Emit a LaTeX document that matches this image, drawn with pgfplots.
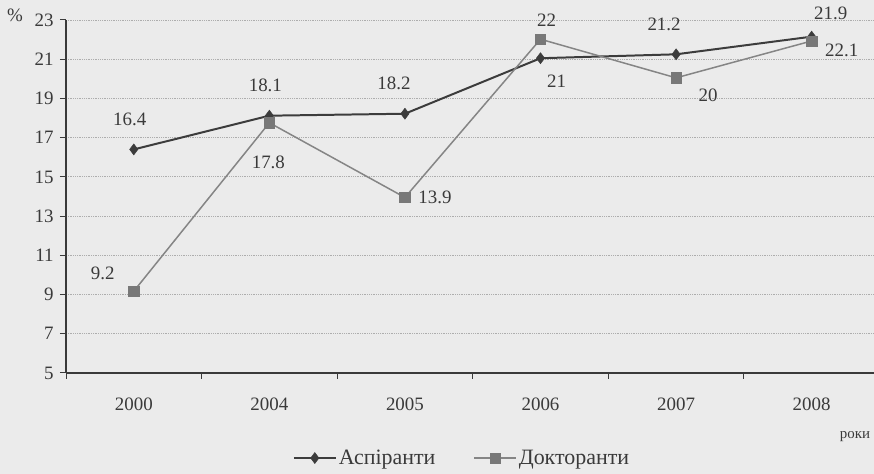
\documentclass[border=0pt]{standalone}
\usepackage{pgfplots}
\pgfplotsset{compat=1.18}
\usepackage{fontspec}
\setmainfont{Liberation Serif}
\definecolor{paper}{HTML}{EBEBEB}
\definecolor{ink}{HTML}{3A3A3A}
\definecolor{darkser}{HTML}{3C3C3C}
\definecolor{lightser}{HTML}{858585}
\definecolor{gridc}{HTML}{ADADAD}
\begin{document}
\begin{tikzpicture}[x=1bp,y=1bp]
\path[use as bounding box, fill=paper] (0,0) rectangle (874,474);
\begin{axis}[
  at={(66bp,101bp)}, anchor=south west,
  scale only axis, width=808bp, height=353bp,
  xmin=-0.5, xmax=5.46, ymin=5, ymax=23,
  axis x line=bottom, axis y line=left,
  axis line style={ink, line width=1.2pt, -},
  /pgf/number format/assume math mode=true,
  xtick={-0.5,0.5,...,4.5}, xticklabels={},
  extra x ticks={0,1,2,3,4,5},
  extra x tick labels={2000,2004,2005,2006,2007,2008},
  extra x tick style={major tick length=0pt, grid=none},
  ytick={5,7,...,23},
  tick align=outside, major tick length=6bp,
  tick style={ink, line width=1pt},
  ymajorgrids, grid style={gridc, line width=0.8pt, densely dotted},
  ticklabel style={font=\fontsize{19}{21}\selectfont, text=ink},
  yticklabel style={font=\fontsize{19}{21}\selectfont, text=ink, xshift=-3bp},
  xticklabel style={yshift=-21bp},
  clip=false,
  legend columns=2,
  legend style={at={(0.49,-0.241)}, anchor=center, draw=none, fill=none,
    font=\fontsize{22}{24}\selectfont, text=ink,
    /tikz/every even column/.append style={column sep=36bp}},
  legend image code/.code={\draw[#1, mark repeat=2, mark phase=2] plot coordinates {(0bp,0bp) (21bp,0bp) (42bp,0bp)};},
]
\addplot[darkser, line width=2pt, mark=diamond*, mark size=5.5bp, mark options={fill=darkser, draw=darkser, line width=0.5pt}]
  coordinates {(0,16.4) (1,18.12) (2,18.22) (3,21.05) (4,21.25) (5,22.15)};
\addlegendentry{Аспіранти}
\addplot[lightser, line width=1.5pt, mark=square*, mark size=5.2bp, mark options={fill=lightser!90!black, draw=lightser!90!black, line width=0.5pt}]
  coordinates {(0,9.17) (1,17.76) (2,13.95) (3,22.02) (4,20.05) (5,21.93)};
\addlegendentry{Докторанти}
\begin{scope}[every node/.style={font=\fontsize{19}{21}\selectfont, text=ink}]
\node at ([xshift=-4bp,yshift=30bp]axis cs:0,16.4) {16.4};
\node at ([xshift=-4bp,yshift=30bp]axis cs:1,18.12) {18.1};
\node at ([xshift=-11bp,yshift=30bp]axis cs:2,18.22) {18.2};
\node at ([xshift=16bp,yshift=-23bp]axis cs:3,21.05) {21};
\node at ([xshift=-12bp,yshift=30bp]axis cs:4,21.25) {21.2};
\node at ([xshift=19bp,yshift=23bp]axis cs:5,22.15) {21.9};
\node at ([xshift=-31bp,yshift=18bp]axis cs:0,9.17) {9.2};
\node at ([xshift=-1bp,yshift=-40bp]axis cs:1,17.76) {17.8};
\node at ([xshift=30bp,yshift=0bp]axis cs:2,13.95) {13.9};
\node at ([xshift=6bp,yshift=19bp]axis cs:3,22.02) {22};
\node at ([xshift=32bp,yshift=-17bp]axis cs:4,20.05) {20};
\node at ([xshift=30bp,yshift=-9bp]axis cs:5,21.93) {22.1};
\end{scope}
\end{axis}
\node[font=\fontsize{19}{21}\selectfont, text=ink] at (15,459) {\%};
\node[font=\fontsize{15}{17}\selectfont, text=ink] at (855,37) {роки};
\end{tikzpicture}
\end{document}
